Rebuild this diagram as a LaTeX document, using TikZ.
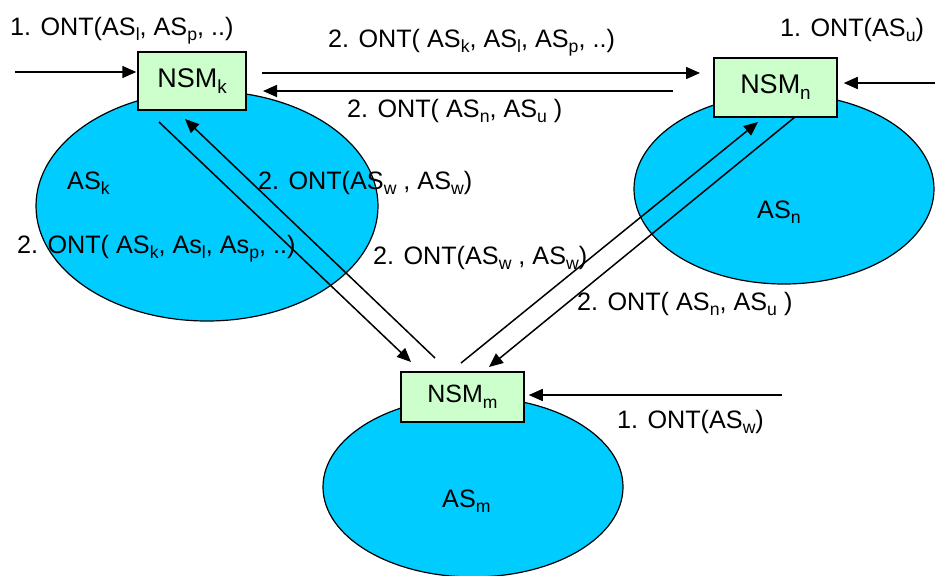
\documentclass[tikz,border=0pt]{standalone}
\usepackage{graphicx}
\usepackage{fontspec}
\setmainfont{Liberation Sans}
\usetikzlibrary{arrows.meta,shapes.geometric}
\definecolor{zonecyan}{RGB}{0,204,255}
\definecolor{boxgreen}{RGB}{204,255,204}
\newcommand{\sub}[1]{\raisebox{-0.22em}{\scalebox{0.7}{#1}}}
\tikzset{
	zone/.style={ellipse, draw, line width=1.2pt, fill=zonecyan, inner sep=0pt},
	nsm/.style={draw, line width=1.5pt, fill=boxgreen, inner sep=0pt, font=\fontsize{27}{30}\selectfont},
	msg/.style={anchor=base west, inner sep=0pt, font=\fontsize{25.2}{29}\selectfont},
	arr/.style={line width=1.5pt, -{Triangle[length=14pt,width=12pt]}}
}

\begin{document}
\begin{tikzpicture}[x=1pt, y=-1pt]
			%%%%% START %%%%%
			\useasboundingbox (0, 0) rectangle (935, 576);
			
			% zones
			\node[zone, minimum width=342pt, minimum height=230pt] (ask) at (207, 206) {};
			\node[zone, minimum width=300pt, minimum height=190pt] (asn) at (784, 189) {};
			\node[zone, minimum width=300pt, minimum height=180pt] (asm) at (473, 487) {};
			
			% managers
			\node[nsm, minimum width=108pt, minimum height=58pt] (nsmk) at (192, 81) {NSM\sub{k}};
			\node[nsm, minimum width=123pt, minimum height=59pt] (nsmn) at (775.5, 87.5) {NSM\sub{n}};
			\node[nsm, minimum width=123pt, minimum height=50pt, font=\fontsize{25}{28}\selectfont] (nsmm) at (462.5, 397) {NSM\sub{m}};
			
			% connector ends
			\coordinate (ink) at (15, 72);
			\coordinate (inn) at (935, 83);
			\coordinate (inm) at (782, 395);
			\coordinate (kn1) at (262, 73);
			\coordinate (kn2) at (700, 73);
			\coordinate (nk1) at (673, 91);
			\coordinate (nk2) at (263, 91);
			\coordinate (km1) at (159, 122);
			\coordinate (km2) at (411, 362);
			\coordinate (mk1) at (435, 358);
			\coordinate (mk2) at (185, 119);
			\coordinate (mn1) at (461, 363);
			\coordinate (mn2) at (758, 122);
			\coordinate (nm1) at (795, 117);
			\coordinate (nm2) at (489, 367);
			
			\draw[arr] (ink) -- ([xshift=-1pt]ink -| nsmk.west);
			\draw[arr] (inn) -- ([xshift=6pt]inn -| nsmn.east);
			\draw[arr] (inm) -- ([xshift=4pt]inm -| nsmm.east);
			\draw[arr] (kn1) -- (kn2);
			\draw[arr] (nk1) -- (nk2);
			\draw[arr] (km1) -- (km2);
			\draw[arr] (mk1) -- (mk2);
			\draw[arr] (mn1) -- (mn2);
			\draw[arr] (nm1) -- (nm2);
			
			% zone names
			\node[msg] (lask) at (67, 189) {AS\sub{k}};
			\node[msg] (lasn) at (757, 218) {AS\sub{n}};
			\node[msg] (lasm) at (442, 507) {AS\sub{m}};
			
			% messages
			\node[msg] (reqk) at (10, 35) {1. ONT(AS\sub{l}, AS\sub{p}, ..)};
			\node[msg] (reqn) at (780, 36) {1. ONT(AS\sub{u})};
			\node[msg] (reqm) at (617, 428) {1. ONT(AS\sub{w})};
			\node[msg] (fwdkn) at (328, 47) {2. ONT( AS\sub{k}, AS\sub{l}, AS\sub{p}, ..)};
			\node[msg] (fwdnk) at (347, 117) {2. ONT( AS\sub{n}, AS\sub{u} )};
			\node[msg] (fwdmk) at (258, 189) {2. ONT(AS\sub{w} , AS\sub{w})};
			\node[msg] (fwdkm) at (17, 253) {2. ONT( AS\sub{k}, As\sub{l}, As\sub{p}, ..)};
			\node[msg] (fwdmn) at (373, 264) {2. ONT(AS\sub{w} , AS\sub{w})};
			\node[msg] (fwdnm) at (577, 310) {2. ONT( AS\sub{n}, AS\sub{u} )};
			
			%%%%% END %%%%%
\end{tikzpicture}
\end{document}
